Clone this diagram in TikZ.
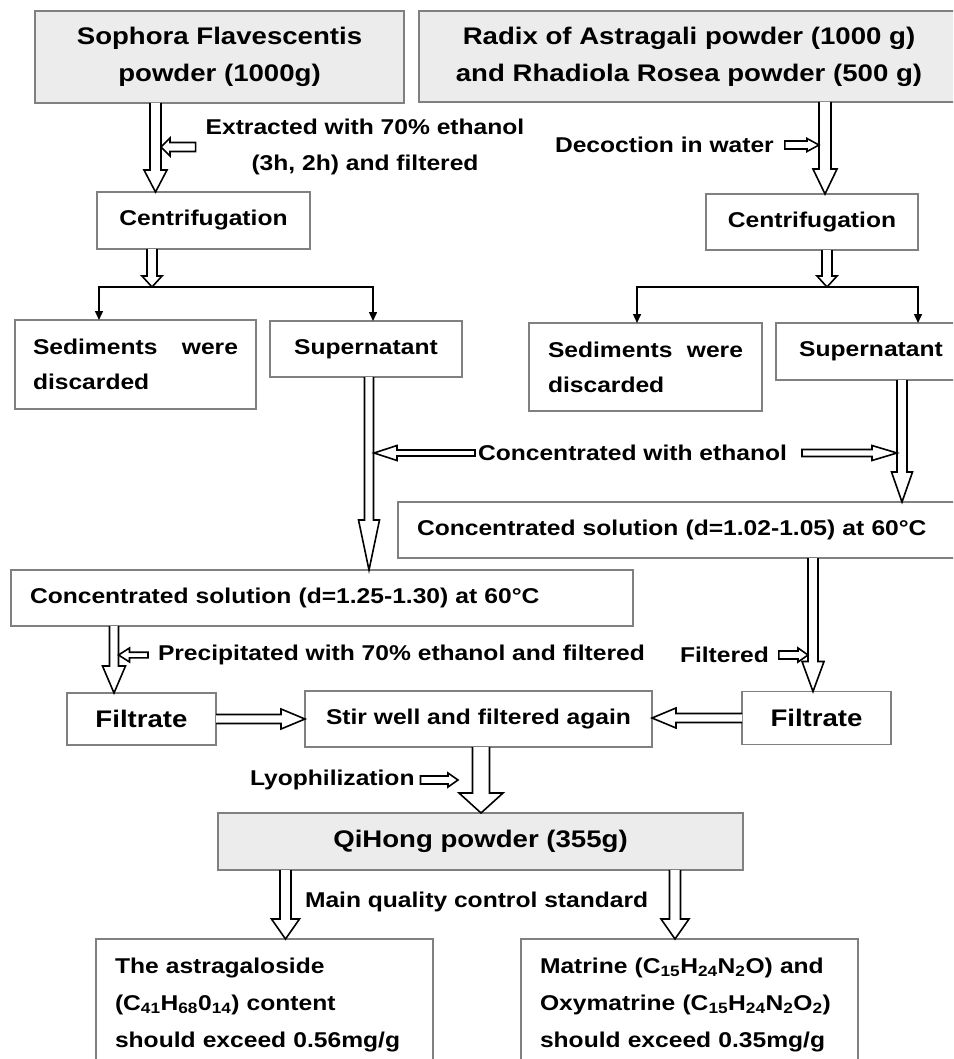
\documentclass[tikz,border=0pt]{standalone}
\usepackage{fontspec}
\setmainfont{Liberation Sans}[FakeStretch=1.15,BoldFeatures={FakeStretch=1.15}]
\usetikzlibrary{calc,arrows.meta}
\definecolor{bordergray}{RGB}{128,128,128}
\definecolor{fillgray}{RGB}{236,236,236}
\newcommand\fatarrow[5]{%
  \path (#1) coordinate (fa-s) (#2) coordinate (fa-t);
  \path ($(fa-t)!#5!(fa-s)$) coordinate (fa-b);
  \filldraw[fatline] ($(fa-s)!#3!90:(fa-t)$) -- ($(fa-b)!#3!90:(fa-t)$) -- ($(fa-b)!#4!90:(fa-t)$) -- (fa-t) -- ($(fa-b)!#4!-90:(fa-t)$) -- ($(fa-b)!#3!-90:(fa-t)$) -- ($(fa-s)!#3!-90:(fa-t)$);}
\newcommand\fatarrowc[5]{%
  \path (#1) coordinate (fa-s) (#2) coordinate (fa-t);
  \path ($(fa-t)!#5!(fa-s)$) coordinate (fa-b);
  \filldraw[fatline] ($(fa-s)!#3!90:(fa-t)$) -- ($(fa-b)!#3!90:(fa-t)$) -- ($(fa-b)!#4!90:(fa-t)$) -- (fa-t) -- ($(fa-b)!#4!-90:(fa-t)$) -- ($(fa-b)!#3!-90:(fa-t)$) -- ($(fa-s)!#3!-90:(fa-t)$) -- cycle;}
\tikzset{
  fatline/.style={fill=white,draw=black,line width=1.6pt,line join=miter},
  box/.style={draw=bordergray,line width=1.5pt,inner sep=0pt,outer sep=0pt,
    font=\bfseries\fontsize{21.4}{36}\selectfont},
  graybox/.style={box,fill=fillgray},
  bigtxt/.style={font=\bfseries\fontsize{24}{37}\selectfont},
  lab/.style={inner sep=0pt,outer sep=0pt,font=\bfseries\fontsize{21.4}{36}\selectfont},
  conn/.style={draw=black,line width=1.5pt,-{Triangle[length=9pt,width=8pt]}},
}
\begin{document}
\begin{tikzpicture}[x=1pt,y=-1pt]
\useasboundingbox (0,0) rectangle (953,1059);
\fill[white] (0,0) rectangle (953,1059);
\clip (0,0) rectangle (953,1059);

% boxes
\node[graybox,bigtxt,align=center,minimum width=369,minimum height=92] (sop) at (219.5,57)
  {Sophora Flavescentis\\powder (1000g)};
\node[graybox,bigtxt,align=center,minimum width=540,minimum height=91] (rad) at (689,56.5)
  {Radix of Astragali powder (1000 g)\\and Rhadiola Rosea powder (500 g)};
\node[box,minimum width=213,minimum height=57] (centL) at (203.5,220.5) {Centrifugation};
\node[box,minimum width=212,minimum height=56] (centR) at (812,222) {Centrifugation};
\node[box,minimum width=241,minimum height=89,text width=205,align=left,font=\bfseries\fontsize{21.4}{35}\selectfont] (sedL) at (135.5,364.5)
  {Sediments\hskip 0pt plus 1filll were\\discarded};
\node[box,minimum width=192,minimum height=56] (supL) at (366,349) {Supernatant};
\node[box,minimum width=233,minimum height=88,text width=195,align=left,font=\bfseries\fontsize{21.4}{35}\selectfont] (sedR) at (645.5,367)
  {Sediments\hskip 0pt plus 1filll were\\discarded};
\node[box,minimum width=190,minimum height=57] (supR) at (871,351.5) {Supernatant};
\node[box,minimum width=562,minimum height=56,text width=524,align=left] (concR) at (679,530)
  {Concentrated solution (d=1.02-1.05) at 60°C};
\node[box,minimum width=622,minimum height=56,text width=584,align=left] (concL) at (322,598)
  {Concentrated solution (d=1.25-1.30) at 60°C};
\node[box,bigtxt,minimum width=149,minimum height=52] (filL) at (141.5,719) {Filtrate};
\node[box,minimum width=347,minimum height=56] (stir) at (478.5,719) {Stir well and filtered again};
\node[box,bigtxt,minimum width=149,minimum height=53] (filR) at (816.5,718) {Filtrate};
\node[graybox,bigtxt,minimum width=525,minimum height=57] (qih) at (480.5,841.5) {QiHong powder (355g)};
\node[box,minimum width=337,minimum height=132,text width=299,align=left,font=\bfseries\fontsize{21.4}{37}\selectfont] (botL) at (264.5,1005)
  {The astragaloside\\(C\textsubscript{41}H\textsubscript{68}0\textsubscript{14}) content\\should exceed 0.56mg/g};
\node[box,minimum width=337,minimum height=132,text width=299,align=left,font=\bfseries\fontsize{21.4}{37}\selectfont] (botR) at (689.5,1005)
  {Matrine (C\textsubscript{15}H\textsubscript{24}N\textsubscript{2}O) and\\Oxymatrine (C\textsubscript{15}H\textsubscript{24}N\textsubscript{2}O\textsubscript{2})\\should exceed 0.35mg/g};

% labels
\node[lab,align=center] (ext) at (365,147) {Extracted with 70\% ethanol\\(3h, 2h) and filtered};
\node[lab,anchor=west] (dec) at (555,145) {Decoction in water};
\node[lab,anchor=west] (cwe) at (478,453) {Concentrated with ethanol};
\node[lab,anchor=west] (pre) at (158,655) {Precipitated with 70\% ethanol and filtered};
\node[lab,anchor=west] (filt) at (680,655) {Filtered};
\node[lab,anchor=west] (lyo) at (250,780) {Lyophilization};
\node[lab,anchor=west] (mqc) at (305,902) {Main quality control standard};

% coordinates
\coordinate (bL) at (152,287);
\coordinate (bR) at (827,287);
\coordinate (extH) at (161,147);
\coordinate (decH) at (819,145);
\coordinate (cweL) at (374,453);
\coordinate (cweR) at (897,453);
\coordinate (preH) at (118.5,655);
\coordinate (filtH) at (808,655);
\coordinate (lyoH) at (458,780);

% main fat arrows
\fatarrow{[xshift=-64]sop.south}{[xshift=-48]centL.north}{5.5pt}{11.5pt}{22pt}
\fatarrow{[xshift=136]rad.south}{[xshift=13]centR.north}{6pt}{12pt}{25pt}
\fatarrow{[xshift=-51.5]centL.south}{bL}{5pt}{10pt}{11pt}
\fatarrow{[xshift=15]centR.south}{bR}{5pt}{10pt}{11pt}
\fatarrow{[xshift=3]supL.south}{[xshift=47]concL.north}{4.5pt}{10.5pt}{50pt}
\fatarrow{[xshift=31]supR.south}{[xshift=223]concR.north}{5pt}{10.5pt}{30pt}
\fatarrow{[xshift=-208]concL.south}{[xshift=-27.5]filL.north}{4.5pt}{11.5pt}{27pt}
\fatarrow{[xshift=134]concR.south}{[xshift=-3.5]filR.north}{5pt}{11pt}{30pt}
\fatarrow{filL.east}{stir.west}{4.5pt}{10pt}{24pt}
\fatarrow{filR.west}{stir.east |- filR.west}{4.5pt}{10pt}{24pt}
\fatarrow{[xshift=2.5]stir.south}{[xshift=0.5]qih.north}{8.5pt}{22pt}{20pt}
\fatarrow{[xshift=-195]qih.south}{[xshift=21]botL.north}{5.5pt}{14pt}{20pt}
\fatarrow{[xshift=194.5]qih.south}{[xshift=-14.5]botR.north}{5.5pt}{14pt}{20pt}

% side arrows
\fatarrowc{[xshift=-10]ext.west}{extH}{4.5pt}{9pt}{9pt}
\fatarrowc{[xshift=11]dec.east}{decH}{4pt}{6.5pt}{12pt}
\fatarrowc{[xshift=-3]cwe.west}{cweL}{3pt}{7.5pt}{23pt}
\fatarrowc{[xshift=15]cwe.east}{cweR}{3.5pt}{7.5pt}{25pt}
\fatarrowc{[xshift=-10]pre.west}{preH}{2.8pt}{7pt}{11pt}
\fatarrowc{[xshift=10]filt.east}{filtH}{4pt}{7pt}{10pt}
\fatarrowc{[xshift=6]lyo.east}{lyoH}{4pt}{7pt}{10pt}

% branch connectors
\draw[conn] (bL) -| ([xshift=-36.5]sedL.north);
\draw[conn] (bL) -| ([xshift=7]supL.north);
\draw[conn] (bR) -| ([xshift=-8.5]sedR.north);
\draw[conn] (bR) -| ([xshift=47]supR.north);
\end{tikzpicture}
\end{document}
